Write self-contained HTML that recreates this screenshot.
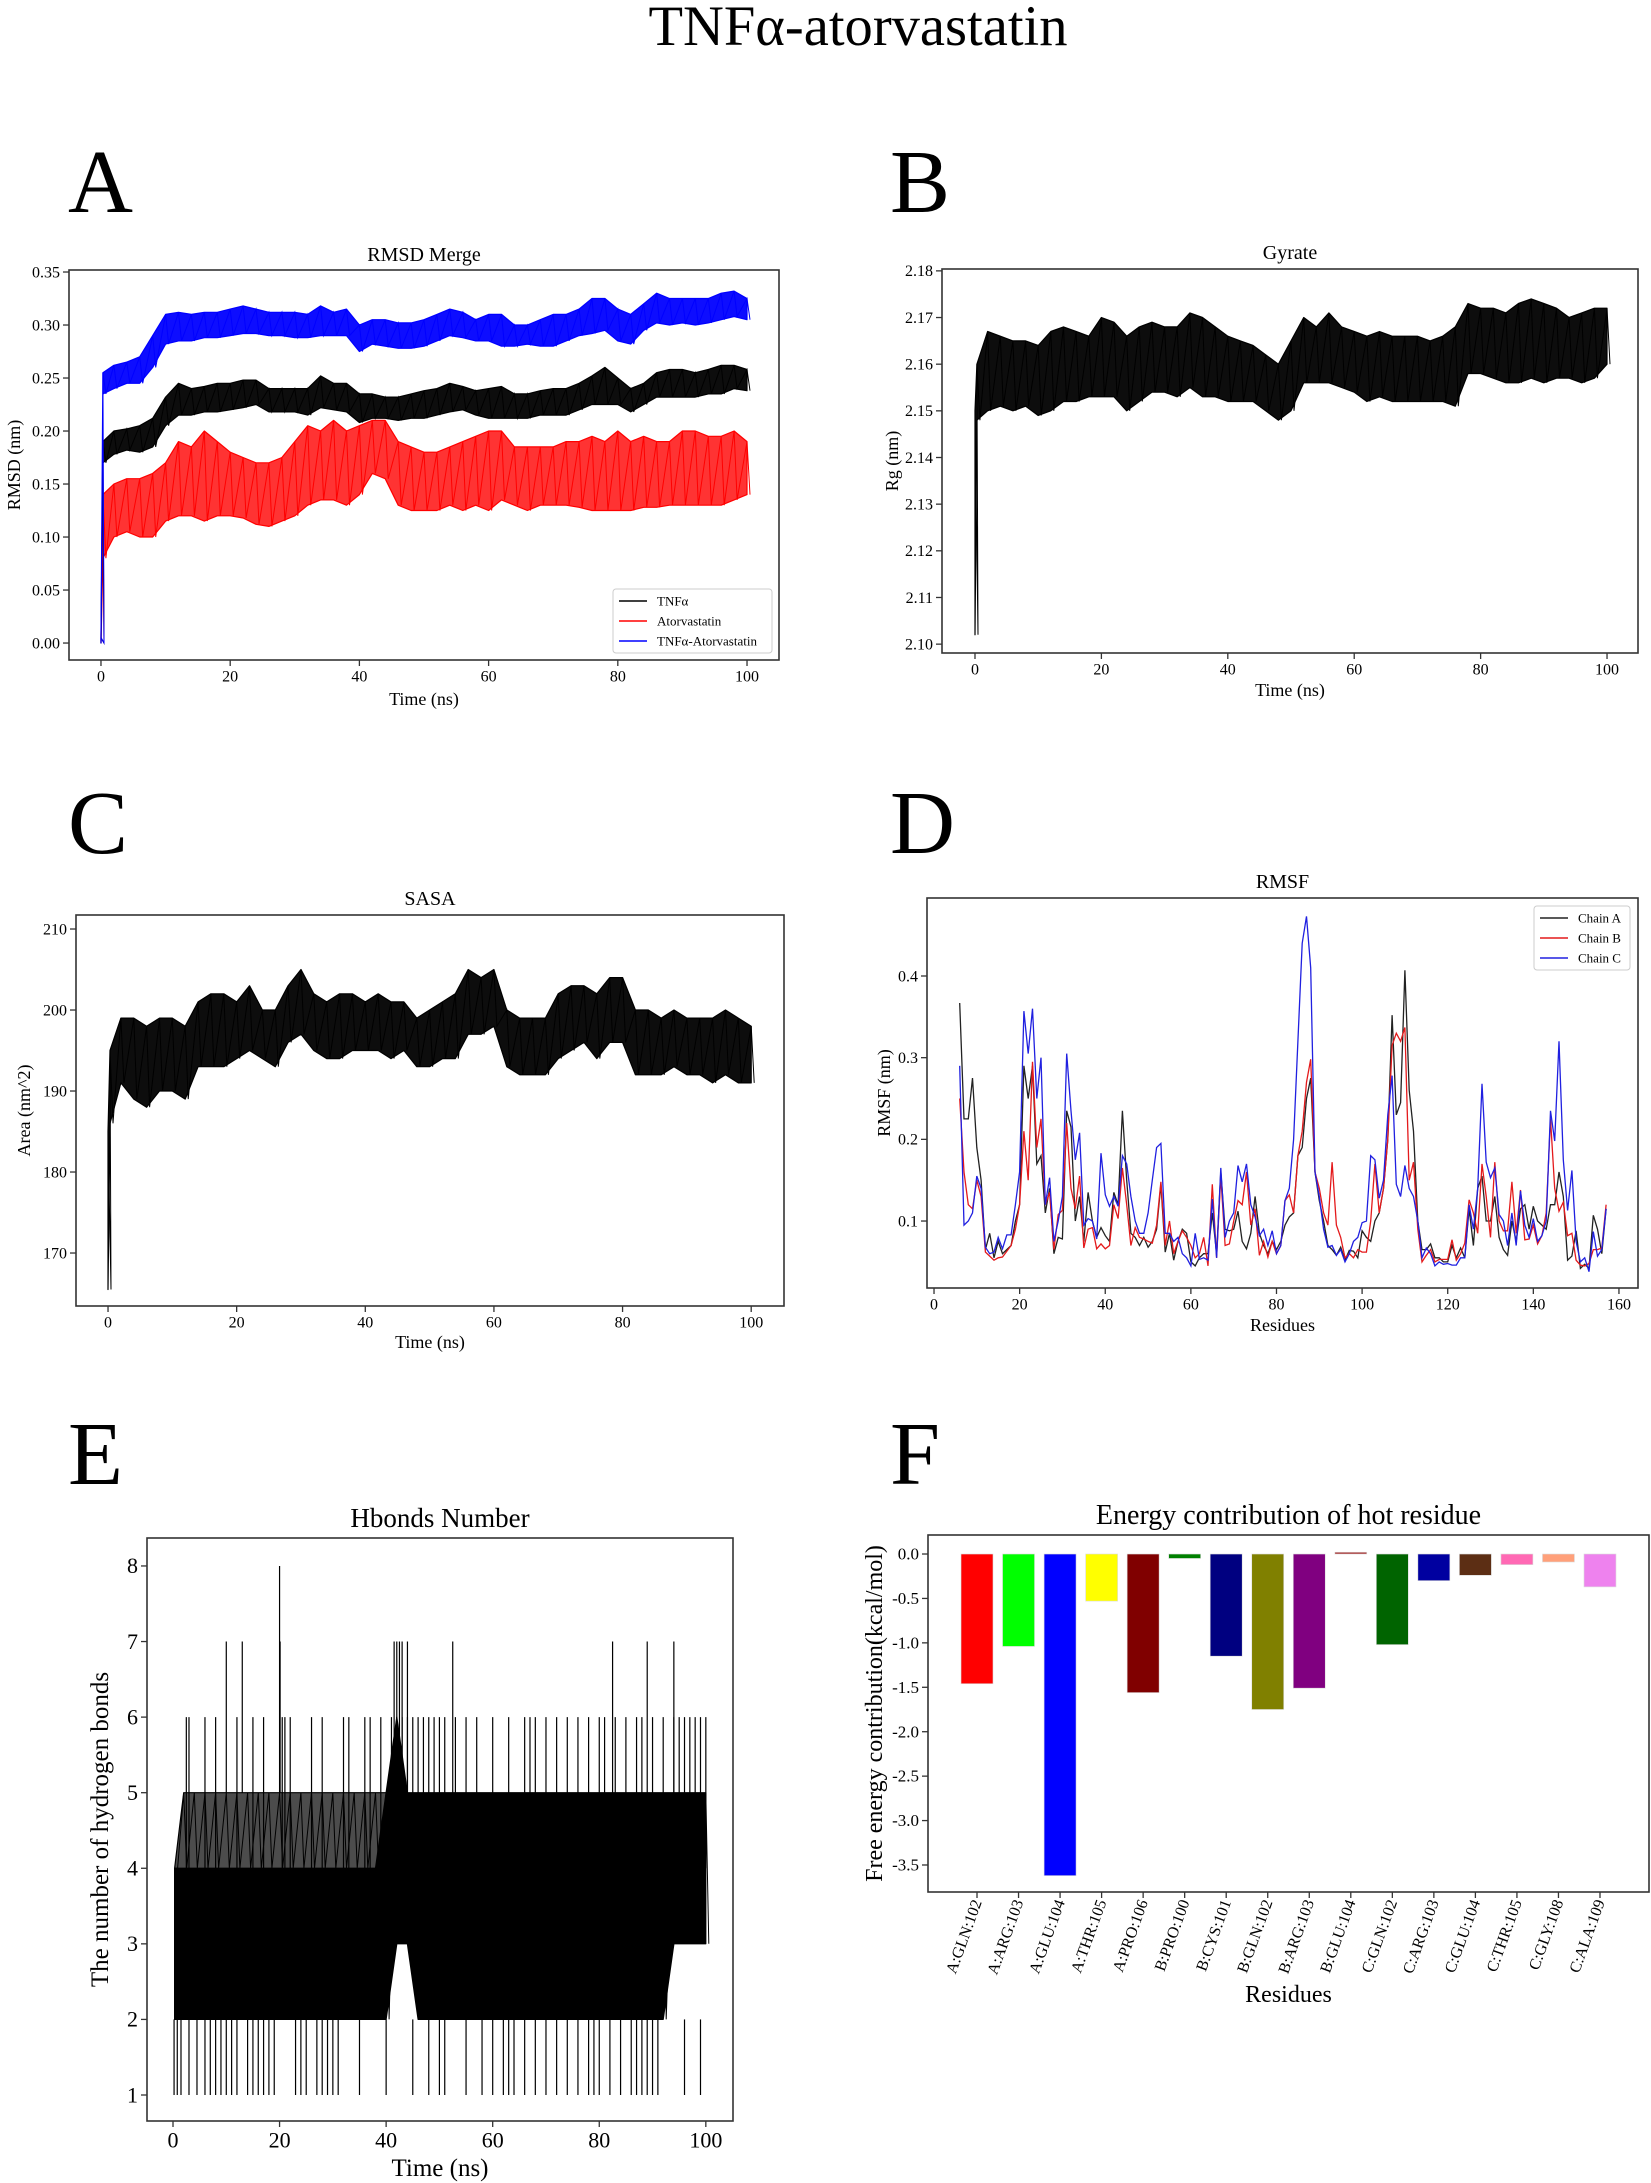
<!DOCTYPE html>
<html><head><meta charset="utf-8"><title>TNFα-atorvastatin</title>
<style>
html,body{margin:0;padding:0;background:#fff;}
svg{display:block;font-family:"Liberation Serif","DejaVu Serif",serif;}
</style></head>
<body>
<svg id="fig" xmlns="http://www.w3.org/2000/svg" width="1651" height="2183" viewBox="0 0 1651 2183">
<rect x="0" y="0" width="1651" height="2183" fill="#fff"/>
<text x="858" y="45" font-size="57" text-anchor="middle" textLength="419" lengthAdjust="spacingAndGlyphs">TNFα-atorvastatin</text>
<text x="68" y="212" font-size="90">A</text>
<text x="890" y="212" font-size="90">B</text>
<text x="68" y="853" font-size="90">C</text>
<text x="890" y="853" font-size="90">D</text>
<text x="68" y="1484" font-size="90">E</text>
<text x="890" y="1484" font-size="90">F</text>
</svg>
<script>
// ---------- shared time grid for band-style trajectories (ns) ----------
const bandTime = [0,0.3,2,4,6,8,10,12,14,16,18,20,22,24,26,28,30,32,34,36,38,40,42,44,46,48,50,52,54,56,58,60,62,64,66,68,70,72,74,76,78,80,82,84,86,88,90,92,94,96,98,100];

// ---------- A: RMSD ----------
const rmsdXTicks = [0,20,40,60,80,100];
const rmsdYTicks = [0.00,0.05,0.10,0.15,0.20,0.25,0.30,0.35];
const rmsdYTickLabels = ["0.00","0.05","0.10","0.15","0.20","0.25","0.30","0.35"];
const tnfLow  = [0,0.17,0.178,0.182,0.18,0.185,0.205,0.215,0.215,0.218,0.218,0.22,0.222,0.225,0.218,0.218,0.218,0.215,0.222,0.22,0.218,0.208,0.212,0.212,0.21,0.212,0.212,0.215,0.218,0.22,0.215,0.212,0.212,0.212,0.212,0.215,0.215,0.215,0.22,0.225,0.225,0.225,0.218,0.225,0.232,0.232,0.232,0.232,0.235,0.235,0.24,0.238];
const tnfHigh = [0.005,0.19,0.2,0.202,0.205,0.212,0.232,0.245,0.24,0.242,0.245,0.245,0.248,0.248,0.24,0.24,0.24,0.24,0.252,0.245,0.245,0.235,0.235,0.232,0.232,0.235,0.238,0.24,0.245,0.242,0.238,0.24,0.242,0.235,0.235,0.238,0.24,0.24,0.245,0.252,0.26,0.25,0.24,0.245,0.255,0.258,0.258,0.255,0.258,0.262,0.262,0.258];
const cplxLow  = [0,0.235,0.24,0.245,0.245,0.26,0.282,0.285,0.285,0.288,0.288,0.29,0.292,0.292,0.29,0.29,0.288,0.288,0.29,0.29,0.29,0.275,0.282,0.28,0.278,0.278,0.28,0.285,0.29,0.288,0.285,0.285,0.28,0.28,0.282,0.28,0.28,0.285,0.29,0.292,0.295,0.285,0.282,0.295,0.302,0.3,0.302,0.3,0.302,0.305,0.308,0.305];
const cplxHigh = [0.005,0.255,0.262,0.265,0.27,0.29,0.31,0.312,0.31,0.312,0.312,0.315,0.318,0.315,0.312,0.312,0.312,0.31,0.318,0.312,0.315,0.3,0.305,0.305,0.302,0.302,0.305,0.31,0.315,0.312,0.305,0.31,0.31,0.3,0.3,0.305,0.31,0.31,0.315,0.325,0.325,0.315,0.31,0.32,0.33,0.325,0.325,0.325,0.325,0.33,0.332,0.325];
const atorLow  = [0,0.08,0.1,0.105,0.1,0.1,0.115,0.12,0.12,0.115,0.12,0.12,0.118,0.112,0.11,0.115,0.12,0.13,0.135,0.135,0.13,0.14,0.16,0.155,0.13,0.125,0.125,0.125,0.13,0.125,0.13,0.125,0.135,0.13,0.125,0.13,0.13,0.13,0.128,0.125,0.125,0.125,0.125,0.128,0.128,0.13,0.13,0.13,0.13,0.13,0.135,0.14];
const atorHigh = [0.005,0.14,0.15,0.155,0.155,0.16,0.17,0.19,0.185,0.2,0.19,0.18,0.175,0.17,0.17,0.175,0.19,0.205,0.2,0.21,0.2,0.205,0.21,0.21,0.19,0.185,0.18,0.18,0.185,0.19,0.195,0.2,0.2,0.185,0.185,0.185,0.185,0.19,0.19,0.195,0.19,0.2,0.19,0.195,0.19,0.19,0.2,0.2,0.195,0.195,0.2,0.19];

// ---------- B: Gyrate ----------
const rgYTicks = [2.10,2.11,2.12,2.13,2.14,2.15,2.16,2.17,2.18];
const rgYTickLabels = ["2.10","2.11","2.12","2.13","2.14","2.15","2.16","2.17","2.18"];
const rgLow  = [2.102,2.148,2.15,2.151,2.15,2.151,2.149,2.15,2.152,2.152,2.153,2.153,2.153,2.15,2.152,2.154,2.154,2.153,2.155,2.153,2.153,2.152,2.152,2.152,2.15,2.148,2.15,2.156,2.156,2.156,2.155,2.154,2.152,2.153,2.152,2.152,2.152,2.152,2.152,2.151,2.158,2.158,2.157,2.156,2.156,2.157,2.156,2.157,2.157,2.156,2.157,2.16];
const rgHigh = [2.15,2.16,2.167,2.166,2.165,2.165,2.164,2.167,2.168,2.167,2.166,2.17,2.169,2.166,2.168,2.169,2.168,2.168,2.171,2.17,2.168,2.166,2.165,2.164,2.162,2.16,2.165,2.17,2.168,2.171,2.168,2.167,2.166,2.167,2.166,2.166,2.166,2.165,2.166,2.168,2.173,2.172,2.172,2.171,2.173,2.174,2.173,2.172,2.17,2.171,2.172,2.172];

// ---------- C: SASA ----------
const sasaYTicks = [170,180,190,200,210];
const sasaLow  = [165.5,186,191,189,188,190,190,189,193,193,193,194,195,194,193,196,197,195,194,194,195,195,195,194,195,193,193,194,194,197,197,198,193,192,192,192,194,195,196,194,196,196,192,192,192,193,192,192,191,192,191,191];
const sasaHigh = [185,195,199,199,198,199,199,198,201,202,202,201,203,200,200,203,205,202,201,202,202,201,202,201,201,199,200,201,202,205,204,205,200,199,199,199,202,203,203,202,204,204,200,200,199,200,199,199,199,200,199,198];

// ---------- D: RMSF (residues 6..157) ----------
const rmsfFirstResidue = 6;
const rmsfXTicks = [0,20,40,60,80,100,120,140,160];
const rmsfYTicks = [0.1,0.2,0.3,0.4];
const chainA = [0.367,0.225,0.225,0.275,0.19,0.15,0.065,0.085,0.055,0.075,0.06,0.065,0.07,0.1,0.12,0.29,0.25,0.29,0.17,0.18,0.11,0.14,0.06,0.08,0.078,0.235,0.215,0.1,0.13,0.075,0.135,0.1,0.08,0.092,0.082,0.075,0.135,0.12,0.235,0.15,0.085,0.08,0.07,0.08,0.068,0.075,0.09,0.145,0.062,0.085,0.052,0.075,0.09,0.085,0.05,0.045,0.055,0.06,0.06,0.11,0.06,0.16,0.09,0.088,0.09,0.112,0.075,0.066,0.085,0.13,0.085,0.07,0.06,0.075,0.065,0.075,0.095,0.105,0.11,0.18,0.19,0.25,0.275,0.16,0.125,0.1,0.07,0.065,0.058,0.068,0.052,0.064,0.063,0.055,0.088,0.08,0.075,0.1,0.11,0.14,0.2,0.352,0.23,0.245,0.407,0.26,0.21,0.1,0.065,0.065,0.072,0.055,0.055,0.05,0.05,0.07,0.055,0.067,0.055,0.115,0.07,0.14,0.155,0.1,0.1,0.13,0.08,0.065,0.058,0.1,0.075,0.115,0.12,0.09,0.118,0.1,0.095,0.09,0.12,0.12,0.16,0.13,0.052,0.057,0.088,0.042,0.047,0.042,0.107,0.09,0.06,0.115];
const chainB = [0.25,0.16,0.12,0.115,0.15,0.13,0.062,0.057,0.052,0.055,0.056,0.063,0.07,0.09,0.12,0.21,0.15,0.295,0.19,0.225,0.12,0.135,0.065,0.108,0.113,0.22,0.14,0.115,0.155,0.067,0.09,0.092,0.066,0.072,0.066,0.07,0.12,0.103,0.165,0.12,0.07,0.092,0.08,0.078,0.075,0.073,0.095,0.148,0.07,0.1,0.06,0.075,0.088,0.08,0.07,0.055,0.06,0.08,0.045,0.145,0.055,0.155,0.07,0.072,0.1,0.125,0.12,0.16,0.095,0.115,0.058,0.075,0.056,0.075,0.06,0.07,0.125,0.132,0.11,0.18,0.21,0.27,0.298,0.16,0.14,0.11,0.095,0.172,0.095,0.08,0.055,0.06,0.055,0.065,0.062,0.062,0.1,0.17,0.11,0.14,0.2,0.315,0.33,0.32,0.337,0.15,0.172,0.09,0.05,0.058,0.065,0.05,0.053,0.053,0.053,0.077,0.052,0.06,0.073,0.126,0.11,0.085,0.17,0.13,0.08,0.172,0.1,0.088,0.088,0.148,0.085,0.138,0.077,0.078,0.095,0.072,0.082,0.11,0.225,0.14,0.112,0.123,0.082,0.085,0.052,0.046,0.045,0.048,0.065,0.065,0.067,0.12];
const chainC = [0.29,0.095,0.1,0.11,0.155,0.14,0.068,0.06,0.062,0.08,0.066,0.083,0.083,0.12,0.16,0.357,0.305,0.36,0.25,0.3,0.12,0.153,0.075,0.1,0.13,0.305,0.235,0.175,0.208,0.095,0.103,0.1,0.078,0.183,0.132,0.118,0.13,0.118,0.18,0.17,0.13,0.1,0.085,0.085,0.11,0.15,0.19,0.195,0.085,0.085,0.075,0.08,0.06,0.055,0.045,0.085,0.053,0.055,0.052,0.127,0.055,0.165,0.08,0.1,0.11,0.168,0.148,0.17,0.12,0.105,0.082,0.09,0.07,0.088,0.06,0.07,0.125,0.14,0.2,0.32,0.44,0.473,0.41,0.16,0.13,0.09,0.068,0.07,0.058,0.065,0.05,0.06,0.075,0.08,0.098,0.1,0.18,0.175,0.128,0.15,0.23,0.278,0.145,0.13,0.168,0.14,0.13,0.1,0.055,0.067,0.06,0.045,0.05,0.047,0.048,0.046,0.046,0.055,0.055,0.12,0.09,0.14,0.268,0.172,0.153,0.165,0.108,0.1,0.07,0.11,0.07,0.137,0.095,0.08,0.103,0.075,0.082,0.1,0.235,0.198,0.32,0.175,0.113,0.162,0.075,0.05,0.055,0.038,0.087,0.057,0.065,0.115];

// ---------- E: H-bonds ----------
const hbYTicks = [1,2,3,4,5,6,7,8];
const hbCoreLow  = [2,2,2,2,2,2,2,2,2,2,2,2,2,2,2,2,2,2,2,2,2,2,3,3,2,2,2,2,2,2,2,2,2,2,2,2,2,2,2,2,2,2,2,2,2,2,2,2,3,3,3,3];
const hbCoreHigh = [4,4,4,4,4,4,4,4,4,4,4,4,4,4,4,4,4,4,4,4,4,5,6,5,5,5,5,5,5,5,5,5,5,5,5,5,5,5,5,5,5,5,5,5,5,5,5,5,5,5,5,5];
const hbSemiTime = [0.3,2,4,6,8,10,12,14,16,18,20,22,24,26,28,30,32,34,36,38,40];
const hbSemiLow  = [4,4,4,4,4,4,4,4,4,4,4,4,4,4,4,4,4,4,4,4,4];
const hbSemiHigh = [4,5,5,5,5,5,5,5,5,5,5,5,5,5,5,5,5,5,5,5,5];
const hbSpike6 = [2.5,3,6,8,12,15,17,20.5,21,22,26,28,32,33,36,37,39,41,42,43,44,45,46,47,48,49,50,51,53,55,57,60,63,66,67,68,70,72,74,76,78,80,81,83,85,87,88,90,92,94,95,96,97,98,99,100];
const hbSpike7 = [10,13,20.1,41.5,42,42.5,43,44,52.5,82.5,89,94];
const hbSpike8 = [20];
const hbSpike1 = [0.2,0.8,1.5,3,4.5,6,7,8,9,10,11,12,14,15,16,17,18,19,23,24,25,27,28,29,30,31,35,40,45,48,50,51,55,58,60,62,63,64,66,68,70,72,74,76,78,79,80,82,84,86,87,88,89,90,91,96,99];

// ---------- F: energy decomposition ----------
const residues = ["A:GLN:102","A:ARG:103","A:GLU:104","A:THR:105","A:PRO:106","B:PRO:100","B:CYS:101","B:GLN:102","B:ARG:103","B:GLU:104","C:GLN:102","C:ARG:103","C:GLU:104","C:THR:105","C:GLY:108","C:ALA:109"];
const energies = [-1.46,-1.04,-3.62,-0.53,-1.56,-0.05,-1.15,-1.75,-1.51,0.02,-1.02,-0.30,-0.24,-0.12,-0.09,-0.37];
const barColors = ["#ff0000","#00ff00","#0000ff","#ffff00","#800000","#008000","#000080","#808000","#800080","#a52a2a","#006400","#0000a0","#5c2e14","#ff69b4","#ffa07a","#ee82ee"];
const energyYTicks = [0.0,-0.5,-1.0,-1.5,-2.0,-2.5,-3.0,-3.5];
const energyYTickLabels = ["0.0","-0.5","-1.0","-1.5","-2.0","-2.5","-3.0","-3.5"];

// ================= rendering =================
const NS = "http://www.w3.org/2000/svg";
const svg = document.getElementById("fig");
function mk(tag, attrs, parent) {
  const el = document.createElementNS(NS, tag);
  for (const k in attrs) el.setAttribute(k, attrs[k]);
  (parent || svg).appendChild(el);
  return el;
}
function makeAxes(c) {
  const g = mk("g", {});
  
  
  c.g = g;
  c.sx = v => c.x0 + (v - c.xmin) / (c.xmax - c.xmin) * (c.x1 - c.x0);
  c.sy = v => c.y1 - (v - c.ymin) / (c.ymax - c.ymin) * (c.y1 - c.y0);
  return c;
}
function drawFrame(c) {
  const f = mk("rect", {x: c.x0, y: c.y0, width: c.x1 - c.x0, height: c.y1 - c.y0, fill: "none", stroke: "#333", "stroke-width": 1.6}, c.g);
  
  
  const t = mk("text", {x: (c.x0 + c.x1) / 2, y: c.y0 - c.titleGap, "font-size": c.titleSize, "text-anchor": "middle"}, c.g);
  
  
  t.textContent = c.title;
  const xl = mk("text", {x: (c.x0 + c.x1) / 2, y: c.xlabelY, "font-size": c.labelSize, "text-anchor": "middle"}, c.g);
  
  
  xl.textContent = c.xlabel;
  const yl = mk("text", {x: 0, y: 0, "font-size": c.labelSize, "text-anchor": "middle", transform: "translate(" + c.ylabelX + "," + (c.y0 + c.y1) / 2 + ") rotate(-90)"}, c.g);
  
  
  yl.textContent = c.ylabel;
}
function drawXTicks(c, ticks, labels) {
  ticks.forEach((v, i) => {
    const x = c.sx(v);
    const tk = mk("line", {x1: x, x2: x, y1: c.y1, y2: c.y1 + 6, stroke: "#333", "stroke-width": 1.3}, c.g);
    
    
    const lb = mk("text", {x: x, y: c.y1 + 8 + c.tickSize * 0.85, "font-size": c.tickSize, "text-anchor": "middle"}, c.g);
    
    
    lb.textContent = labels ? labels[i] : String(v);
  });
}
function drawYTicks(c, ticks, labels) {
  ticks.forEach((v, i) => {
    const y = c.sy(v);
    const tk = mk("line", {x1: c.x0 - 6, x2: c.x0, y1: y, y2: y, stroke: "#333", "stroke-width": 1.3}, c.g);
    
    
    const lb = mk("text", {x: c.x0 - 9, y: y + c.tickSize * 0.33, "font-size": c.tickSize, "text-anchor": "end"}, c.g);
    
    
    lb.textContent = labels ? labels[i] : String(v);
  });
}
function drawBand(c, times, low, high, color, name, opacity) {
  let d = "";
  times.forEach((t, i) => { d += (i ? "L" : "M") + c.sx(t).toFixed(1) + "," + c.sy(high[i]).toFixed(1); });
  for (let i = times.length - 1; i >= 0; i--) d += "L" + c.sx(times[i]).toFixed(1) + "," + c.sy(low[i]).toFixed(1);
  d += "Z";
  const p = mk("path", {d: d, fill: color, "fill-opacity": opacity, stroke: color, "stroke-width": 1.2, "stroke-linejoin": "round"}, c.g);
  
  
  let z = "";
  times.forEach((t, i) => {
    const x = c.sx(t);
    z += (i ? "L" : "M") + x.toFixed(1) + "," + c.sy(high[i]).toFixed(1);
    z += "L" + (x + 3).toFixed(1) + "," + c.sy(low[i]).toFixed(1);
  });
  const zl = mk("path", {d: z, fill: "none", stroke: color, "stroke-width": 1}, c.g);
  
  
}
function drawLine(c, xs, ys, color, name) {
  let d = "";
  ys.forEach((v, i) => { d += (i ? "L" : "M") + c.sx(xs[i]).toFixed(1) + "," + c.sy(v).toFixed(1); });
  const p = mk("path", {d: d, fill: "none", stroke: color, "stroke-width": 1.3}, c.g);
  
  
}
function drawLegend(c, x, y, w, h, entries, font, rowH) {
  const lg = mk("g", {}, c.g);
  
  
  mk("rect", {x: x, y: y, width: w, height: h, rx: 3, fill: "#fff", stroke: "#ccc", "stroke-width": 1}, lg);
  entries.forEach((e, i) => {
    const yy = y + rowH * 0.6 + i * rowH;
    const ln = mk("line", {x1: x + 6, x2: x + 34, y1: yy, y2: yy, stroke: e[1], "stroke-width": 1.5}, lg);
    
    
    const tx = mk("text", {x: x + 44, y: yy + font * 0.33, "font-size": font}, lg);
    
    
    tx.textContent = e[0];
  });
}

// ---- Panel A
const A = makeAxes({name: "rmsd-chart", x0: 69, x1: 779, y0: 270, y1: 660, xmin: -4.95, xmax: 104.95, ymin: -0.016, ymax: 0.3519,
  title: "RMSD Merge", titleSize: 20, titleGap: 9, xlabel: "Time (ns)", labelSize: 18, xlabelY: 705, ylabel: "RMSD (nm)", ylabelX: 20, tickSize: 16});
drawBand(A, bandTime, atorLow, atorHigh, "#ff0000", "series-atorvastatin", 0.8);
drawBand(A, bandTime, tnfLow, tnfHigh, "#000000", "series-tnfa", 0.95);
drawBand(A, bandTime, cplxLow, cplxHigh, "#0000ff", "series-tnfa-atorvastatin", 0.95);
drawFrame(A); drawXTicks(A, rmsdXTicks); drawYTicks(A, rmsdYTicks, rmsdYTickLabels);
drawLegend(A, 613, 589, 159, 64, [["TNFα", "#000"], ["Atorvastatin", "#ff0000"], ["TNFα-Atorvastatin", "#0000ff"]], 13, 20);

// ---- Panel B
const B = makeAxes({name: "gyrate-chart", x0: 942, x1: 1638, y0: 269, y1: 653, xmin: -5.22, xmax: 104.9, ymin: 2.0981, ymax: 2.1804,
  title: "Gyrate", titleSize: 20, titleGap: 10, xlabel: "Time (ns)", labelSize: 18, xlabelY: 696, ylabel: "Rg (nm)", ylabelX: 898, tickSize: 16});
drawBand(B, bandTime, rgLow, rgHigh, "#000000", "series-rg", 0.95);
drawFrame(B); drawXTicks(B, rmsdXTicks); drawYTicks(B, rgYTicks, rgYTickLabels);

// ---- Panel C
const C = makeAxes({name: "sasa-chart", x0: 76, x1: 784, y0: 915, y1: 1306, xmin: -4.98, xmax: 105.1, ymin: 163.46, ymax: 211.73,
  title: "SASA", titleSize: 20, titleGap: 10, xlabel: "Time (ns)", labelSize: 18, xlabelY: 1348, ylabel: "Area (nm^2)", ylabelX: 30, tickSize: 16});
drawBand(C, bandTime, sasaLow, sasaHigh, "#000000", "series-sasa", 0.95);
drawFrame(C); drawXTicks(C, rmsdXTicks); drawYTicks(C, sasaYTicks);

// ---- Panel D
const D = makeAxes({name: "rmsf-chart", x0: 927, x1: 1638, y0: 898, y1: 1288, xmin: -1.64, xmax: 164.45, ymin: 0.018, ymax: 0.4955,
  title: "RMSF", titleSize: 20, titleGap: 10, xlabel: "Residues", labelSize: 18, xlabelY: 1331, ylabel: "RMSF (nm)", ylabelX: 890, tickSize: 16});
const resIdx = chainA.map((v, i) => rmsfFirstResidue + i);
drawLine(D, resIdx, chainA, "#222", "series-chain-a");
drawLine(D, resIdx, chainB, "#e41a1c", "series-chain-b");
drawLine(D, resIdx, chainC, "#2020e0", "series-chain-c");
drawFrame(D); drawXTicks(D, rmsfXTicks); drawYTicks(D, rmsfYTicks);
drawLegend(D, 1534, 906, 96, 64, [["Chain A", "#222"], ["Chain B", "#e41a1c"], ["Chain C", "#2020e0"]], 13, 20);

// ---- Panel E
const E = makeAxes({name: "hbonds-chart", x0: 147, x1: 733, y0: 1538, y1: 2121, xmin: -4.88, xmax: 105.1, ymin: 0.656, ymax: 8.37,
  title: "Hbonds Number", titleSize: 27, titleGap: 11, xlabel: "Time (ns)", labelSize: 25, xlabelY: 2176, ylabel: "The number of hydrogen bonds", ylabelX: 108, tickSize: 22});
function spikes(list, from, to, name) {
  list.forEach(t => {
    const x = E.sx(t);
    const l = mk("line", {x1: x, x2: x, y1: E.sy(from), y2: E.sy(to), stroke: "#000", "stroke-width": 1.2}, E.g);
    
    
  });
}
spikes(hbSpike1, 2, 1, 'hbond-spike-low');
spikes(hbSpike6, 4, 6, 'hbond-spike-6');
spikes(hbSpike7, 5, 7, 'hbond-spike-7');
spikes(hbSpike8, 5, 8, 'hbond-spike-8');
drawBand(E, hbSemiTime, hbSemiLow, hbSemiHigh, "#000000", "series-hbonds-sparse", 0.7);
drawBand(E, bandTime.slice(1), hbCoreLow.slice(1), hbCoreHigh.slice(1), "#000000", "series-hbonds", 1);
drawFrame(E); drawXTicks(E, rmsdXTicks); drawYTicks(E, hbYTicks);

// ---- Panel F
const F = makeAxes({name: "energy-chart", x0: 928, x1: 1649, y0: 1535, y1: 1892, xmin: -1.18, xmax: 16.18, ymin: -3.804, ymax: 0.214,
  title: "Energy contribution of hot residue", titleSize: 28, titleGap: 11, xlabel: "Residues", labelSize: 24, xlabelY: 2002, ylabel: "Free energy contribution(kcal/mol)", ylabelX: 882, tickSize: 17});
energies.forEach((v, i) => {
  const xc = F.sx(i), w = 32;
  const top = Math.min(F.sy(0), F.sy(v)), h = Math.abs(F.sy(v) - F.sy(0));
  const r = mk("rect", {x: xc - w / 2, y: top, width: w, height: Math.max(h, 1), fill: barColors[i], stroke: "#ddd", "stroke-width": 0.6}, F.g);
  
  
});
drawFrame(F); drawYTicks(F, energyYTicks, energyYTickLabels);
residues.forEach((name, i) => {
  const x = F.sx(i);
  const tk = mk("line", {x1: x, x2: x, y1: F.y1, y2: F.y1 + 6, stroke: "#333", "stroke-width": 1.3}, F.g);
  
  
  const lb = mk("text", {x: 0, y: 0, "font-size": 16, "text-anchor": "end", transform: "translate(" + (x + 5) + "," + (F.y1 + 10) + ") rotate(-70)"}, F.g);
  
  
  lb.textContent = name;
});
</script>
</body></html>
